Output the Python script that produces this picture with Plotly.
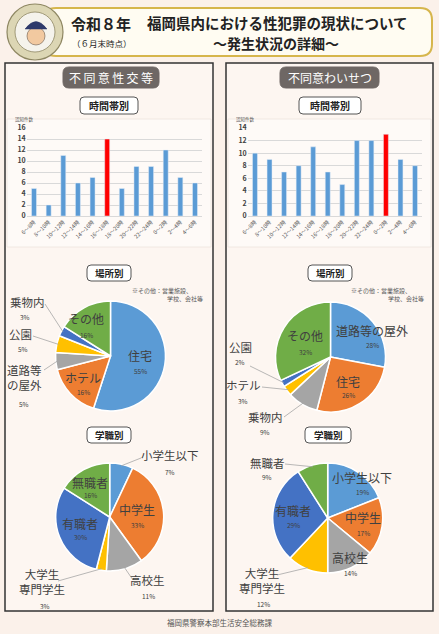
import math
import plotly.graph_objects as go

W, H = 439, 634
FONT = "Noto Sans CJK JP"

# ---------- data ----------
hours = ["6～8時", "8～10時", "10～12時", "12～14時", "14～16時", "16～18時",
         "18～20時", "20～22時", "22～24時", "0～2時", "2～4時", "4～6時"]
rape_by_hour = [5, 2, 11, 6, 7, 14, 5, 9, 9, 12, 7, 6]
indecency_by_hour = [10, 9, 7, 8, 11, 7, 5, 12, 12, 13, 9, 8]

rape_place_labels = ["住宅", "ホテル", "道路等の屋外", "公園", "乗物内", "その他"]
rape_place_values = [55, 16, 5, 5, 3, 16]
indecency_place_labels = ["道路等の屋外", "住宅", "乗物内", "ホテル", "公園", "その他"]
indecency_place_values = [28, 26, 9, 3, 2, 32]

job_labels = ["小学生以下", "中学生", "高校生", "大学生専門学生", "有職者", "無職者"]
rape_job_values = [7, 33, 11, 3, 30, 16]
indecency_job_values = [19, 17, 14, 12, 29, 9]

# ---------- style ----------
PIE_COLORS = ["#5B9BD5", "#ED7D31", "#A5A5A5", "#FFC000", "#4472C4", "#70AD47"]
BAR_BLUE = "#5B9BD5"
BAR_RED = "#FF0000"
TXT = "#404040"
WRAP = {"道路等の屋外": "道路等<br>の屋外", "大学生専門学生": "大学生<br>専門学生"}


def px(x):
    return x / W


def py(y):
    return 1 - y / H


def rrect(x0, y0, x1, y1, r):
    return (f"M {px(x0 + r)},{py(y0)} L {px(x1 - r)},{py(y0)} "
            f"Q {px(x1)},{py(y0)} {px(x1)},{py(y0 + r)} L {px(x1)},{py(y1 - r)} "
            f"Q {px(x1)},{py(y1)} {px(x1 - r)},{py(y1)} L {px(x0 + r)},{py(y1)} "
            f"Q {px(x0)},{py(y1)} {px(x0)},{py(y1 - r)} L {px(x0)},{py(y0 + r)} "
            f"Q {px(x0)},{py(y0)} {px(x0 + r)},{py(y0)} Z")


shapes = []
annotations = []


def box(x0, y0, x1, y1, r, fill, line, width=1.0, layer="below"):
    shapes.append(dict(type="path", path=rrect(x0, y0, x1, y1, r), xref="paper", yref="paper",
                       fillcolor=fill, line=dict(color=line, width=width), layer=layer))


def text(x, y, s, size, color=TXT, bold=False, xanchor="center"):
    annotations.append(dict(x=px(x), y=py(y), xref="paper", yref="paper", text=s, showarrow=False,
                            xanchor=xanchor, yanchor="middle",
                            font=dict(family=FONT, size=size, color=color,
                                      weight="bold" if bold else "normal")))


def circle(cx, cy, r, fill, line, width=1.0):
    shapes.append(dict(type="circle", xref="paper", yref="paper",
                       x0=px(cx - r), x1=px(cx + r), y0=py(cy + r), y1=py(cy - r),
                       fillcolor=fill, line=dict(color=line, width=width), layer="above"))


fig = go.Figure()

# ---------- header ----------
box(44, 8, 432, 56, 12, "#FFFCF2", "#D6B64C", 2)
circle(35, 32, 28, "#DCD6B4", "#8E8762", 1.2)
circle(35, 32, 20, "#F5F3EC", "#8E8762", 0.8)
circle(36, 36, 9, "#F2C9A0", "#6B5B4B", 0.6)
shapes.append(dict(type="path", xref="paper", yref="paper", layer="above",
                   path=f"M {px(25)},{py(29)} Q {px(36)},{py(14)} {px(47)},{py(29)} Z",
                   fillcolor="#2E3A6B", line=dict(color="#2E3A6B", width=0.5)))
text(101, 24, "令和８年", 15, "#222", True)
text(102, 43, "（６月末時点）", 8.5, "#222")
text(277, 23, "福岡県内における性犯罪の現状について", 14.5, "#222", True)
text(276, 43, "～発生状況の詳細～", 14, "#222", True)

# ---------- panels ----------
for x0, x1 in [(5, 213), (226, 433)]:
    shapes.append(dict(type="rect", xref="paper", yref="paper", x0=px(x0), x1=px(x1),
                       y0=py(611), y1=py(63), fillcolor="#FDF6F1",
                       line=dict(color="#333333", width=1.5), layer="below"))
    shapes.append(dict(type="rect", xref="paper", yref="paper", x0=px(x0 + 2), x1=px(x1 - 2),
                       y0=py(247), y1=py(119), fillcolor="#FEFAF7",
                       line=dict(color="#EDE4DE", width=0.8), layer="below"))

box(63, 67, 159, 88, 6, "#6E6764", "#6E6764")
text(111, 77.5, "不\u2009同\u2009意\u2009性\u2009交\u2009等", 12, "white")
box(280, 67, 379, 88, 6, "#6E6764", "#6E6764")
text(329.5, 77.5, "不同意わいせつ", 12, "white")

for (x0, x1, y0, y1, s, size) in [(80, 138, 97, 114, "時間帯別", 10),
                                    (299, 361, 97, 114, "時間帯別", 10),
                                    (87, 131, 265, 281, "場所別", 9.5),
                                    (308, 352, 265, 281, "場所別", 9.5),
                                    (87, 131, 427, 443, "学職別", 9.5),
                                    (305, 351, 427, 443, "学職別", 9.5)]:
    box(x0, y0, x1, y1, 4, "white", "#555555", 1)
    text((x0 + x1) / 2, (y0 + y1) / 2, s, size, "#222", True)

# ---------- bar charts ----------
for i, (vals, xd, ymax) in enumerate([(rape_by_hour, (26.7, 202.3), 16),
                                       (indecency_by_hour, (247.7, 422.3), 14)]):
    n = "" if i == 0 else str(i + 1)
    peak = max(vals)
    fig.add_trace(go.Bar(x=hours, y=vals, xaxis="x" + n, yaxis="y" + n,
                         marker=dict(color=[BAR_RED if v == peak else BAR_BLUE for v in vals]),
                         showlegend=False, hoverinfo="x+y"))
    axis_x = dict(domain=[px(xd[0]), px(xd[1])], anchor="y" + n, tickangle=-45,
                  tickfont=dict(family=FONT, size=5.5, color="#595959"),
                  showgrid=False, showline=True, linecolor="#D9D9D9", linewidth=0.8,
                  ticks="", automargin=False, fixedrange=True)
    axis_y = dict(domain=[py(216), py(128)], anchor="x" + n, range=[0, ymax], dtick=2,
                  gridcolor="#D9D9D9", gridwidth=0.7, zeroline=False, showline=False,
                  tickfont=dict(family=FONT, size=7, color=TXT, weight="bold"),
                  ticks="", automargin=False, fixedrange=True)
    fig.update_layout(**{"xaxis" + n: axis_x, "yaxis" + n: axis_y})

text(13, 120, "認知件数", 4.5, "#595959", xanchor="left")
text(234, 120, "認知件数", 4.5, "#595959", xanchor="left")

fig.update_layout(bargap=0.66)


# ---------- pies ----------
def add_pie(labels, values, cx, cy, r, inside, outside):
    fig.add_trace(go.Pie(labels=labels, values=values, sort=False, direction="clockwise",
                         rotation=0, textinfo="none", hoverinfo="label+percent",
                         marker=dict(colors=PIE_COLORS, line=dict(color="white", width=1.5)),
                         domain=dict(x=[px(cx - r), px(cx + r)], y=[py(cy + r), py(cy - r)]),
                         showlegend=False))
    total = sum(values)
    start = 0
    for lab, v in zip(labels, values):
        pct = f"{round(100 * v / total)}%"
        if lab in inside:
            (nx, ny), (qx, qy) = inside[lab]
            text(nx, ny, lab, 12)
            text(qx, qy, pct, 6.5)
        elif lab in outside:
            (nx, ny), (qx, qy), (ax, ay) = outside[lab]
            text(nx, ny, WRAP.get(lab, lab), 11.5)
            text(qx, qy, pct, 6.5)
            th = 2 * math.pi * (start + v / 2) / total
            tx, ty = cx + 0.97 * r * math.sin(th), cy - 0.97 * r * math.cos(th)
            shapes.append(dict(type="line", xref="paper", yref="paper",
                               x0=px(ax), y0=py(ay), x1=px(tx), y1=py(ty),
                               line=dict(color="#A6A6A6", width=0.8), layer="above"))
        start += v


add_pie(rape_place_labels, rape_place_values, 110.5, 356, 55,
        {"住宅": ((140, 355), (140, 371)), "ホテル": ((83, 377), (83, 392)),
         "その他": ((86, 318), (86, 335))},
        {"乗物内": ((27, 302), (25, 317), (45, 304)), "公園": ((20, 334), (23, 349), (33, 336)),
         "道路等の屋外": ((24, 377), (24, 404), (44, 370))})

add_pie(indecency_place_labels, indecency_place_values, 330.5, 357, 55,
        {"道路等の屋外": ((372, 330), (372, 345)), "住宅": ((348, 381), (348, 395)),
         "その他": ((305, 335), (305, 352))},
        {"公園": ((240, 347), (240, 362), (250, 366)), "ホテル": ((243, 385), (243, 401), (262, 387)),
         "乗物内": ((265, 417), (265, 432), (284, 417))})

add_pie(job_labels, rape_job_values, 109.7, 517, 54,
        {"中学生": ((137, 509), (137, 525)), "有職者": ((80, 523), (80, 537)),
         "無職者": ((90, 482), (90, 495))},
        {"小学生以下": ((170, 455), (170, 472), (141, 458)),
         "高校生": ((147, 580), (148, 596), (133, 580)),
         "大学生専門学生": ((42, 581), (45, 606), (58, 581))})

add_pie(job_labels, indecency_job_values, 327.7, 518, 55,
        {"小学生以下": ((362, 477), (362, 492)), "中学生": ((363, 517), (363, 533)),
         "高校生": ((350, 557), (350, 573)), "有職者": ((293, 510), (293, 525))},
        {"無職者": ((267, 463), (267, 477), (285, 464)),
         "大学生専門学生": ((262, 580), (263, 604), (277, 575))})

text(130, 290, "※その他：営業施設、", 6, "#595959", xanchor="left")
text(165, 299, "学校、会社等", 6, "#595959", xanchor="left")
text(349, 290, "※その他：営業施設、", 6, "#595959", xanchor="left")
text(386, 299, "学校、会社等", 6, "#595959", xanchor="left")

text(219, 622, "福岡県警察本部生活安全総務課", 7.5, "#555555")

fig.update_layout(width=W, height=H, margin=dict(l=0, r=0, t=0, b=0),
                  paper_bgcolor="#FBF1EA", plot_bgcolor="rgba(0,0,0,0)",
                  font=dict(family=FONT, color=TXT), showlegend=False,
                  shapes=shapes, annotations=annotations)

# page body has a default 8px margin; drop it so the figure sits at the corner
fig.write_html("out.html", config={"displayModeBar": False},
               post_script="document.body.style.margin='0px';document.body.style.background='#FBF1EA';")
